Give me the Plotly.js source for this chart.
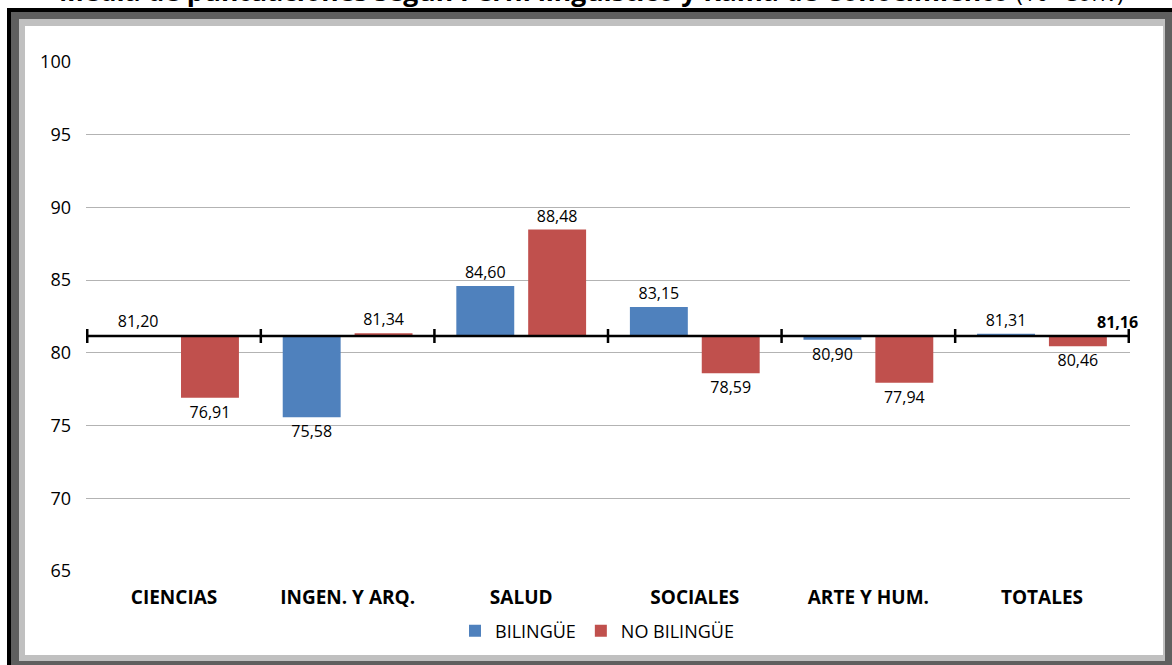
<!DOCTYPE html>
<html>
<head>
<meta charset="utf-8">
<script src="https://cdn.plot.ly/plotly-3.0.1.min.js"></script>
<style>html,body{margin:0;padding:0;background:#fff;}#chart{width:1172px;height:665px;}</style>
</head>
<body>
<div id="chart"></div>
<script>
// ---- data ----
const categories = ["CIENCIAS", "INGEN. Y ARQ.", "SALUD", "SOCIALES", "ARTE Y HUM.", "TOTALES"];
const bilingue = [81.20, 75.58, 84.60, 83.15, 80.90, 81.31];
const noBilingue = [76.91, 81.34, 88.48, 78.59, 77.94, 80.46];
const baseValue = 81.16;
const seriesNames = ["BILINGÜE", "NO BILINGÜE"];
const yTicks = [65, 70, 75, 80, 85, 90, 95, 100];
const titleMain = "Media de puntuaciones según Perfil lingüístico y Rama de Conocimiento";
const titleSub = "(10ª Conv)";

// ---- layout helpers ----
const W = 1172, H = 665;
const M = {l: 86, r: 42, t: 62, b: 94};
const PW = W - M.l - M.r, PH = H - M.t - M.b;
const px = x => (x - M.l) / PW;
const py = y => (H - M.b - y) / PH;
const fmt = v => v.toFixed(2).replace('.', ',');
const FONT = "Open Sans, Noto Sans, sans-serif";

function barTrace(vals, name, color) {
  return {
    type: 'bar', name: name, x: categories,
    y: vals.map(v => v - baseValue), base: baseValue,
    text: vals.map(fmt), textposition: 'outside', cliponaxis: false,
    constraintext: 'none',
    textfont: {family: FONT, size: 16, color: '#000'},
    hoverinfo: 'skip',
    marker: {color: color, line: {width: 0}}
  };
}

const traces = [
  barTrace(bilingue, seriesNames[0], '#4f81bd'),
  barTrace(noBilingue, seriesNames[1], '#c0504d')
];

function rect(x0, y0, x1, y1, color) {
  return {type: 'rect', xref: 'paper', yref: 'paper', layer: 'below',
    x0: px(x0), x1: px(x1), y0: py(y1), y1: py(y0),
    fillcolor: color, line: {width: 0}};
}

const shapes = [
  rect(7, 8, 1250, 760, '#000000'),
  rect(11, 12, 1250, 760, '#5f5f5f'),
  rect(19, 19, 1165, 661, '#c0c0c0'),
  rect(25, 26, 1163, 655, '#ffffff'),
  // crossing axis line at base value
  {type: 'line', xref: 'paper', yref: 'y', x0: 0, x1: 1, y0: baseValue, y1: baseValue,
   line: {color: '#000', width: 2.5}, layer: 'above'}
];
for (let i = 0; i <= categories.length; i++) {
  shapes.push({type: 'line', xref: 'x', yref: 'y', ysizemode: 'pixel', yanchor: baseValue,
    x0: i - 0.5, x1: i - 0.5, y0: -7, y1: 7, line: {color: '#000', width: 2.5}, layer: 'above'});
}

const layout = {
  width: W, height: H,
  margin: M,
  paper_bgcolor: '#ffffff', plot_bgcolor: 'rgba(0,0,0,0)',
  font: {family: FONT, color: '#000'},
  barmode: 'group', bargap: 0.172, bargroupgap: 0.194,
  showlegend: true,
  legend: {orientation: 'h', x: 0.5 - 11 / PW, xanchor: 'center', y: py(631), yanchor: 'middle',
    font: {family: FONT, size: 18, color: '#000'}, itemwidth: 30, traceorder: 'normal'},
  xaxis: {type: 'category', showgrid: false, zeroline: false, showline: false,
    ticks: '', ticklabelstandoff: 13,
    tickfont: {family: FONT, size: 19, weight: 'bold', color: '#000'}, fixedrange: true},
  yaxis: {range: [65, 100], tickvals: yTicks, ticktext: yTicks.map(String),
    showgrid: true, gridcolor: '#b3b3b3', gridwidth: 1, zeroline: false, showline: false,
    ticks: '', ticklabelstandoff: 14,
    tickfont: {family: FONT, size: 18, color: '#000'}, fixedrange: true},
  shapes: shapes,
  annotations: [
    {xref: 'paper', yref: 'y', x: 1, y: baseValue, xanchor: 'right', yanchor: 'bottom',
     xshift: 10, yshift: 1, showarrow: false, text: '<b>' + fmt(baseValue) + '</b>',
     font: {family: FONT, size: 16, color: '#000'}},
    {xref: 'paper', yref: 'paper', x: px(57), y: py(11), xanchor: 'left', yanchor: 'bottom',
     showarrow: false, text: '<b>' + titleMain + '</b> <span style="font-size:23px">' + titleSub + '</span>',
     font: {family: FONT, size: 26.5, color: '#000'}}
  ]
};

Plotly.newPlot('chart', traces, layout, {displayModeBar: false, staticPlot: true});
</script>
</body>
</html>
